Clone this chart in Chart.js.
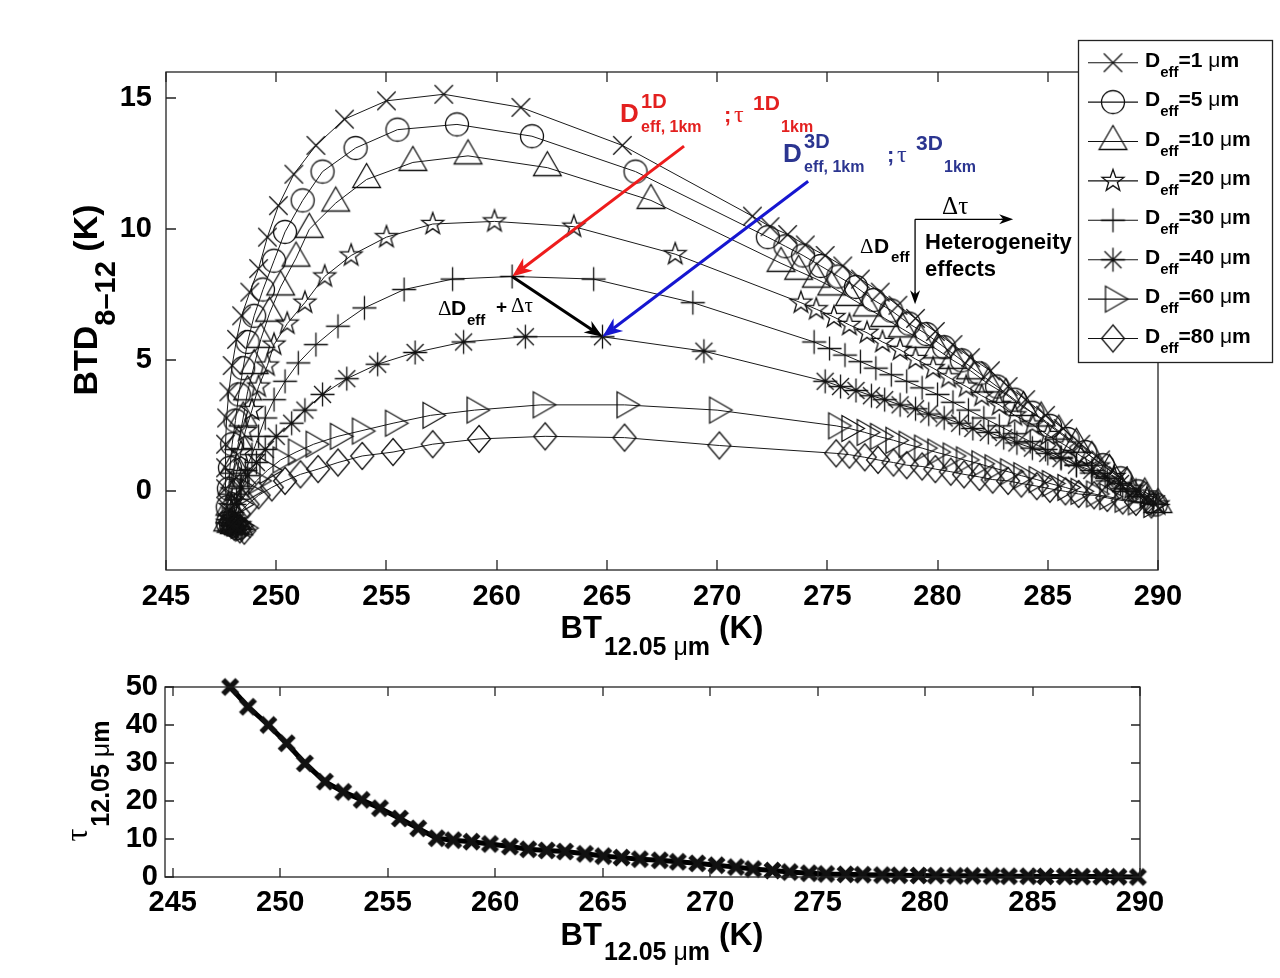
<!DOCTYPE html>
<html><head><meta charset="utf-8">
<script src="https://cdn.jsdelivr.net/npm/chart.js@4.4.1/dist/chart.umd.min.js"></script>
<style>
html,body{margin:0;padding:0;background:#fff;}
#wrap{position:relative;width:1280px;height:978px;overflow:hidden;background:#fff;}
canvas{position:absolute;left:0;}
#c1{top:0;} #c2{top:660px;}
</style></head><body>
<div id="wrap"><canvas id="c1" width="1280" height="660"></canvas><canvas id="c2" width="1280" height="318"></canvas></div>
<script>
// ---------------- DATA ----------------
const xTicks = [245,250,255,260,265,270,275,280,285,290];
const yTicksTop = [0,5,10,15];
const yTicksBottom = [0,10,20,30,40,50];
const deffLabels = ['1','5','10','20','30','40','60','80'];

const bt1  = [248.2,248.05,247.95,247.8,247.75,247.7,247.7,247.7,247.75,247.85,248.0,248.2,248.43,248.8,249.2,249.6,250.1,250.8,251.8,253.1,255.0,257.6,261.1,265.7,271.6,272.4,273.2,274.0,274.9,275.7,276.5,277.4,278.2,279.0,279.9,280.7,281.5,282.4,283.2,284.0,284.9,285.7,286.5,287.4,288.2,289.1,289.9];
const btd1 = [-1.35,-1.3,-1.25,-1.2,-0.6,0.1,0.9,1.8,2.8,3.8,4.8,5.8,6.7,7.6,8.5,9.7,10.9,12.1,13.2,14.2,14.9,15.15,14.65,13.2,10.5,10.1,9.8,9.4,9.0,8.6,8.1,7.6,7.1,6.6,6.1,5.6,5.1,4.6,4.0,3.5,2.9,2.4,1.8,1.2,0.6,0.0,-0.5];

const bt5  = [248.25,248.1,247.95,247.8,247.8,247.85,247.9,248.0,248.15,248.3,248.5,248.7,249.0,249.4,249.9,250.4,251.2,252.1,253.6,255.5,258.2,261.6,266.3,272.3,273.1,273.9,274.7,275.5,276.3,277.1,277.9,278.7,279.5,280.3,281.1,281.9,282.7,283.5,284.3,285.1,285.9,286.7,287.5,288.3,289.1,289.9];
const btd5 = [-1.4,-1.3,-1.25,-1.2,-0.6,0.1,0.9,1.8,2.7,3.7,4.7,5.7,6.7,7.7,8.8,9.9,11.1,12.2,13.1,13.8,14.0,13.55,12.2,9.7,9.35,9.0,8.6,8.2,7.8,7.3,6.9,6.4,6.0,5.5,5.0,4.5,4.0,3.5,3.0,2.5,2.0,1.5,1.0,0.5,0.0,-0.5];

const bt10  = [248.3,248.1,247.95,247.8,247.9,248.0,248.1,248.3,248.5,248.7,249.0,249.3,249.7,250.2,250.9,251.5,252.7,254.1,256.2,258.7,262.3,267.0,272.9,273.7,274.5,275.2,276.0,276.8,277.6,278.4,279.2,280.0,280.7,281.5,282.3,283.1,283.9,284.7,285.5,286.3,287.0,287.8,288.6,289.4,290.0];
const btd10 = [-1.35,-1.3,-1.25,-1.2,-0.6,0.2,1.0,1.9,2.8,3.8,4.8,5.8,6.8,7.8,8.9,10.0,11.0,11.9,12.55,12.8,12.35,11.1,8.7,8.4,8.1,7.8,7.4,7.0,6.6,6.2,5.8,5.4,5.0,4.6,4.1,3.7,3.2,2.8,2.3,1.8,1.3,0.8,0.3,-0.1,-0.5];

const bt20  = [248.35,248.15,248.0,247.8,247.9,248.0,248.2,248.4,248.6,248.9,249.2,249.6,249.9,250.5,251.3,252.2,253.4,255.0,257.1,259.9,263.5,268.1,273.8,274.5,275.3,276.0,276.8,277.5,278.3,279.0,279.8,280.5,281.3,282.0,282.8,283.5,284.3,285.0,285.8,286.5,287.3,288.0,288.8,289.5,290.0];
const btd20 = [-1.3,-1.3,-1.25,-1.2,-0.6,0.0,0.7,1.5,2.3,3.1,4.0,4.8,5.6,6.4,7.2,8.2,9.0,9.7,10.2,10.3,10.1,9.05,7.2,6.95,6.65,6.35,6.05,5.7,5.4,5.05,4.7,4.35,4.0,3.65,3.3,2.9,2.55,2.15,1.75,1.35,0.95,0.55,0.1,-0.25,-0.5];

const bt30  = [248.4,248.2,248.0,247.8,248.0,248.2,248.4,248.6,248.9,249.2,249.5,249.9,250.4,251.0,251.8,252.8,254.0,255.8,258.0,260.7,264.4,268.9,274.4,275.1,275.8,276.5,277.2,277.9,278.6,279.3,280.0,280.7,281.4,282.1,282.8,283.5,284.2,284.9,285.6,286.3,287.0,287.7,288.4,289.2,290.0];
const btd30 = [-1.4,-1.35,-1.25,-1.2,-0.8,-0.3,0.2,0.8,1.4,2.1,2.8,3.5,4.2,4.9,5.6,6.3,7.0,7.7,8.1,8.2,8.1,7.2,5.7,5.45,5.2,4.95,4.7,4.45,4.2,3.95,3.7,3.4,3.1,2.8,2.5,2.2,1.9,1.6,1.3,1.0,0.7,0.4,0.1,-0.2,-0.5];

const bt40  = [248.45,248.25,248.0,247.8,248.1,248.4,248.7,249.1,249.5,250.0,250.7,251.3,252.1,253.2,254.6,256.3,258.5,261.3,264.8,269.4,274.9,275.6,276.3,277.0,277.6,278.3,279.0,279.6,280.3,281.0,281.6,282.3,283.0,283.6,284.3,285.0,285.6,286.3,287.0,287.6,288.3,289.0,289.8];
const btd40 = [-1.45,-1.35,-1.3,-1.2,-0.5,0.1,0.6,1.1,1.6,2.1,2.6,3.1,3.7,4.3,4.85,5.3,5.7,5.9,5.9,5.35,4.2,4.0,3.85,3.65,3.5,3.3,3.15,2.95,2.8,2.6,2.4,2.25,2.05,1.85,1.65,1.45,1.25,1.0,0.8,0.55,0.3,0.05,-0.45];

const bt60  = [248.5,248.3,248.1,247.9,248.3,248.7,249.1,249.6,250.2,250.9,251.7,252.8,253.8,255.3,257.0,259.0,262.0,265.8,270.0,275.4,276.0,276.7,277.3,278.0,278.6,279.3,279.9,280.6,281.2,281.9,282.5,283.2,283.8,284.5,285.1,285.8,286.4,287.1,287.7,288.4,289.0,289.7];
const btd60 = [-1.4,-1.3,-1.2,-1.1,-0.5,0.0,0.4,0.8,1.2,1.5,1.8,2.1,2.3,2.6,2.9,3.1,3.3,3.3,3.1,2.5,2.4,2.25,2.1,1.95,1.8,1.65,1.5,1.35,1.2,1.05,0.9,0.75,0.6,0.45,0.3,0.15,0.0,-0.1,-0.2,-0.3,-0.4,-0.5];

const bt80  = [248.55,248.35,248.1,247.9,248.3,248.7,249.2,249.8,250.4,251.1,251.9,252.8,253.9,255.3,257.1,259.2,262.2,265.8,270.1,275.4,276.0,276.7,277.3,278.0,278.6,279.3,279.9,280.6,281.2,281.9,282.5,283.2,283.8,284.5,285.1,285.8,286.4,287.1,287.7,288.4,289.0,289.7];
const btd80 = [-1.5,-1.45,-1.35,-1.2,-0.85,-0.5,-0.15,0.15,0.4,0.65,0.85,1.1,1.35,1.5,1.8,2.0,2.1,2.05,1.75,1.45,1.4,1.3,1.2,1.1,1.0,0.95,0.85,0.75,0.65,0.55,0.45,0.4,0.3,0.2,0.1,0.0,-0.1,-0.15,-0.25,-0.35,-0.4,-0.5];

const btTau = [247.67,248.5,249.45,250.3,251.15,252.08,252.93,253.79,254.64,255.57,256.42,257.28,258.05,258.9,259.76,260.69,261.54,262.4,263.25,264.18,265.03,265.88,266.73,267.66,268.5,269.4,270.3,271.2,272.0,272.9,273.7,274.6,275.4,276.3,277.1,278.0,278.8,279.7,280.5,281.4,282.2,283.1,283.9,284.8,285.6,286.5,287.3,288.2,289.0,289.9];
const tau   = [50.0,44.8,40.0,35.2,29.9,25.1,22.4,20.3,18.1,15.4,12.8,10.2,9.7,9.3,8.7,8.0,7.3,7.0,6.7,6.1,5.5,5.1,4.7,4.4,4.0,3.6,3.1,2.6,2.1,1.7,1.3,1.0,0.8,0.7,0.6,0.5,0.45,0.4,0.35,0.3,0.3,0.25,0.2,0.2,0.15,0.15,0.1,0.1,0.05,0.0];

const btSeries  = [bt1,bt5,bt10,bt20,bt30,bt40,bt60,bt80];
const btdSeries = [btd1,btd5,btd10,btd20,btd30,btd40,btd60,btd80];

// annotation anchors (data coordinates)
const redArrow   = [[268.5,13.17],[260.7,8.2]];
const blueArrow  = [[274.13,11.83],[264.8,5.9]];
const blackArrow = [[260.7,8.2],[264.8,5.9]];
const redLabelAt   = [265.6,14.08];
const blueLabelAt  = [272.99,12.56];
const blackLabelAt = [257.34,6.72];
const hetCorner = [278.98,10.38], hetRight = 283.43, hetBottom = 7.14;

// ---------------- STYLE ----------------
const FAM = '"Liberation Sans", Arial, Helvetica, sans-serif';
const SERIF = '"Liberation Serif", "DejaVu Serif", serif';
const markerKinds = ['x','o','tri','star','plus','ast','triR','dia'];
const markerR = {x:13,o:11.5,tri:16,star:11.5,plus:12,ast:12,triR:15,dia:13.5};

function makeMarker(kind, r, lw) {
  const size = Math.ceil(2*r + 2*lw + 4);
  const c = document.createElement('canvas');
  c.width = size; c.height = size;
  const g = c.getContext('2d');
  const cx = size/2, cy = size/2;
  g.strokeStyle = '#111'; g.lineWidth = lw;
  const ang = (deg, rr) => [rr*Math.cos(deg*Math.PI/180), rr*Math.sin(deg*Math.PI/180)];
  const poly = pts => { pts.forEach((p,i)=> i ? g.lineTo(cx+p[0],cy+p[1]) : g.moveTo(cx+p[0],cy+p[1])); g.closePath(); };
  g.beginPath();
  const d = r*Math.SQRT1_2;
  switch(kind){
    case 'x': case 'X': g.moveTo(cx-d,cy-d); g.lineTo(cx+d,cy+d); g.moveTo(cx-d,cy+d); g.lineTo(cx+d,cy-d); break;
    case 'o': g.arc(cx,cy,r,0,2*Math.PI); break;
    case 'tri': poly([ang(-90,r),ang(30,r),ang(150,r)]); break;
    case 'star': { const p=[]; for(let k=0;k<10;k++) p.push(ang(-90+k*36, k%2 ? r*0.4 : r)); poly(p); break; }
    case 'plus': g.moveTo(cx-r,cy); g.lineTo(cx+r,cy); g.moveTo(cx,cy-r); g.lineTo(cx,cy+r); break;
    case 'ast': g.moveTo(cx-r,cy); g.lineTo(cx+r,cy); g.moveTo(cx,cy-r); g.lineTo(cx,cy+r);
                g.moveTo(cx-d,cy-d); g.lineTo(cx+d,cy+d); g.moveTo(cx-d,cy+d); g.lineTo(cx+d,cy-d); break;
    case 'triR': poly([ang(0,r),ang(120,r),ang(240,r)]); break;
    case 'dia': poly([[0,-r],[r*0.85,0],[0,r],[-r*0.85,0]]); break;
  }
  g.stroke();
  return c;
}
const markerImgs = markerKinds.map(k => makeMarker(k, markerR[k], 1.3));
const tauMarker = makeMarker('X', 10, 5.5);

function txt(ctx, s, x, y, font, color) { ctx.font = font; if (color) ctx.fillStyle = color; ctx.fillText(s, x, y); return ctx.measureText(s).width; }
function rich(ctx, x, y, parts, align) {
  let w = 0;
  parts.forEach(p => { ctx.font = p.f; p.w = ctx.measureText(p.t).width; w += p.w + (p.dx||0); });
  let cx = align === 'center' ? x - w/2 : x;
  parts.forEach(p => { ctx.font = p.f; ctx.fillStyle = p.c || '#000'; ctx.fillText(p.t, cx + (p.dx||0), y + (p.dy||0)); cx += p.w + (p.dx||0); });
}
function arrow(ctx, x1, y1, x2, y2, color, lw, hl, hw) {
  const a = Math.atan2(y2-y1, x2-x1), c = Math.cos(a), s = Math.sin(a);
  ctx.save(); ctx.strokeStyle = color; ctx.fillStyle = color; ctx.lineWidth = lw;
  ctx.beginPath(); ctx.moveTo(x1,y1); ctx.lineTo(x2 - hl*0.7*c, y2 - hl*0.7*s); ctx.stroke();
  const bx = x2 - hl*c, by = y2 - hl*s;
  ctx.beginPath(); ctx.moveTo(x2,y2);
  ctx.lineTo(bx + hw*s, by - hw*c);
  ctx.lineTo(x2 - hl*0.7*c, y2 - hl*0.7*s);
  ctx.lineTo(bx - hw*s, by + hw*c);
  ctx.closePath(); ctx.fill(); ctx.restore();
}
function boxAndTicks(chart, xt, yt, len) {
  const {ctx, chartArea:a, scales:{x,y}} = chart;
  ctx.save(); ctx.strokeStyle = '#222'; ctx.lineWidth = 1.3;
  ctx.strokeRect(a.left, a.top, a.right-a.left, a.bottom-a.top);
  ctx.beginPath();
  xt.forEach(v => { const p = Math.round(x.getPixelForValue(v)); ctx.moveTo(p,a.bottom); ctx.lineTo(p,a.bottom-len); ctx.moveTo(p,a.top); ctx.lineTo(p,a.top+len); });
  yt.forEach(v => { const p = Math.round(y.getPixelForValue(v)); ctx.moveTo(a.left,p); ctx.lineTo(a.left+len,p); ctx.moveTo(a.right,p); ctx.lineTo(a.right-len,p); });
  ctx.stroke(); ctx.restore();
}
function dLabel(ctx, x, y, sup, color) {
  ctx.fillStyle = color;
  txt(ctx, 'D', x, y, 'bold 26px '+FAM);
  txt(ctx, sup, x+21, y-14, 'bold 20px '+FAM);
  txt(ctx, 'eff, 1km', x+21, y+10, 'bold 16px '+FAM);
  txt(ctx, ';', x+104, y, 'bold 22px '+FAM);
  txt(ctx, 'τ', x+114, y, '24px '+SERIF);
  txt(ctx, sup, x+133, y-12, 'bold 21px '+FAM);
  txt(ctx, '1km', x+161, y+10, 'bold 16px '+FAM);
}

const topDecor = {
  id: 'topDecor',
  afterDraw(chart) {
    const {ctx, scales:{x, y}} = chart;
    const X = v => x.getPixelForValue(v), Y = v => y.getPixelForValue(v);
    boxAndTicks(chart, xTicks, yTicksTop, 10);
    ctx.save();
    ctx.textBaseline = 'alphabetic';
    rich(ctx, 662, 638, [
      {t:'BT', f:'bold 31px '+FAM},
      {t:'12.05 ', f:'bold 25px '+FAM, dy:17, dx:2},
      {t:'μ', f:'25px '+FAM, dy:17},
      {t:'m', f:'bold 25px '+FAM, dy:17},
      {t:' (K)', f:'bold 32px '+FAM}
    ], 'center');
    ctx.save(); ctx.translate(97, 300); ctx.rotate(-Math.PI/2);
    rich(ctx, 0, 0, [
      {t:'BTD', f:'bold 34px '+FAM},
      {t:'8–12', f:'bold 29px '+FAM, dy:18},
      {t:' (K)', f:'bold 34px '+FAM}
    ], 'center');
    ctx.restore();
    arrow(ctx, X(redArrow[0][0]), Y(redArrow[0][1]), X(redArrow[1][0]), Y(redArrow[1][1]), '#ee1c1c', 3, 20, 8);
    arrow(ctx, X(blueArrow[0][0]), Y(blueArrow[0][1]), X(blueArrow[1][0]), Y(blueArrow[1][1]), '#1616d0', 3, 20, 8);
    arrow(ctx, X(blackArrow[0][0]), Y(blackArrow[0][1]), X(blackArrow[1][0]), Y(blackArrow[1][1]), '#000', 3, 18, 7);
    dLabel(ctx, X(redLabelAt[0]), Y(redLabelAt[1]), '1D', '#e3201f');
    dLabel(ctx, X(blueLabelAt[0]), Y(blueLabelAt[1]), '3D', '#2b3590');
    const bx = X(blackLabelAt[0]), by = Y(blackLabelAt[1]);
    ctx.fillStyle = '#000';
    txt(ctx, 'Δ', bx, by, '21px '+SERIF);
    txt(ctx, 'D', bx+13, by, 'bold 21px '+FAM);
    txt(ctx, 'eff', bx+29, by+10, 'bold 15px '+FAM);
    txt(ctx, '+', bx+58, by-2, 'bold 19px '+FAM);
    txt(ctx, 'Δτ', bx+73, by-3, '21px '+SERIF);
    const cx0 = X(hetCorner[0]), cy0 = Y(hetCorner[1]);
    ctx.strokeStyle = '#000'; ctx.lineWidth = 1.3;
    ctx.beginPath(); ctx.moveTo(cx0, cy0); ctx.lineTo(X(hetRight)-6, cy0); ctx.stroke();
    ctx.beginPath(); ctx.moveTo(cx0, cy0); ctx.lineTo(cx0, Y(hetBottom)-6); ctx.stroke();
    arrow(ctx, X(hetRight)-12, cy0, X(hetRight), cy0, '#000', 1.3, 14, 5);
    arrow(ctx, cx0, Y(hetBottom)-12, cx0, Y(hetBottom), '#000', 1.3, 14, 5);
    txt(ctx, 'Δτ', cx0+27, cy0-5, '25px '+SERIF, '#000');
    txt(ctx, 'Δ', cx0-55, cy0+34, '21px '+SERIF);
    txt(ctx, 'D', cx0-41, cy0+34, 'bold 21px '+FAM);
    txt(ctx, 'eff', cx0-24, cy0+43, 'bold 15px '+FAM);
    txt(ctx, 'Heterogeneity', cx0+10, cy0+30, 'bold 22px '+FAM);
    txt(ctx, 'effects', cx0+10, cy0+57, 'bold 22px '+FAM);
    ctx.fillStyle = '#fff'; ctx.fillRect(1078, 40, 194, 322);
    ctx.strokeStyle = '#222'; ctx.lineWidth = 1.3; ctx.strokeRect(1078.5, 40.5, 194, 322);
    deffLabels.forEach((lab, i) => {
      const yy = 62.7 + i*39.4;
      ctx.strokeStyle = '#111'; ctx.lineWidth = 1.1;
      ctx.beginPath(); ctx.moveTo(1088, yy); ctx.lineTo(1138, yy); ctx.stroke();
      const m = markerImgs[i];
      ctx.drawImage(m, 1113 - m.width/2, yy - m.height/2);
      ctx.fillStyle = '#000';
      let xx = 1145;
      xx += txt(ctx, 'D', xx, yy+4, 'bold 21px '+FAM);
      xx += txt(ctx, 'eff', xx, yy+14, 'bold 15px '+FAM);
      xx += txt(ctx, '=' + lab + ' ', xx, yy+4, 'bold 21px '+FAM);
      xx += txt(ctx, 'μ', xx, yy+4, '21px '+FAM);
      txt(ctx, 'm', xx, yy+4, 'bold 21px '+FAM);
    });
    ctx.restore();
  }
};

const bottomDecor = {
  id: 'bottomDecor',
  afterDraw(chart) {
    const {ctx} = chart;
    boxAndTicks(chart, xTicks, yTicksBottom, 9);
    ctx.save();
    rich(ctx, 662, 285, [
      {t:'BT', f:'bold 31px '+FAM},
      {t:'12.05 ', f:'bold 25px '+FAM, dy:15, dx:2},
      {t:'μ', f:'25px '+FAM, dy:15},
      {t:'m', f:'bold 25px '+FAM, dy:15},
      {t:' (K)', f:'bold 32px '+FAM}
    ], 'center');
    ctx.translate(87, 121); ctx.rotate(-Math.PI/2);
    rich(ctx, 0, 0, [
      {t:'τ', f:'32px '+SERIF},
      {t:'12.05 ', f:'bold 25px '+FAM, dy:22, dx:2},
      {t:'μ', f:'25px '+FAM, dy:22},
      {t:'m', f:'bold 25px '+FAM, dy:22}
    ], 'center');
    ctx.restore();
  }
};

const tickFont = {family: FAM, size: 29, weight: 'bold'};

new Chart(document.getElementById('c1'), {
  type: 'scatter',
  data: {
    datasets: btSeries.map((bt, i) => ({
      label: 'Deff=' + deffLabels[i] + ' μm',
      data: bt.map((v, k) => ({x: v, y: btdSeries[i][k]})),
      showLine: true, borderColor: '#1a1a1a', borderWidth: 1, tension: 0,
      pointStyle: markerImgs[i], pointRadius: 6, pointHoverRadius: 6,
      backgroundColor: 'rgba(0,0,0,0)', clip: false
    }))
  },
  options: {
    responsive: false, animation: false, devicePixelRatio: 1, events: [],
    layout: {padding: {top: 72, right: 122, left: 0, bottom: 0}},
    plugins: {legend: {display: false}, tooltip: {enabled: false}},
    scales: {
      x: {type: 'linear', min: 245, max: 290,
          afterBuildTicks: s => { s.ticks = xTicks.map(v => ({value: v})); },
          afterFit: s => { s.height = 90; },
          grid: {display: false, drawTicks: false}, border: {display: false},
          ticks: {color: '#000', font: tickFont, padding: 10, maxRotation: 0, autoSkip: false}},
      y: {type: 'linear', min: -3, max: 16,
          afterBuildTicks: s => { s.ticks = yTicksTop.map(v => ({value: v})); },
          afterFit: s => { s.width = 166; },
          grid: {display: false, drawTicks: false}, border: {display: false},
          ticks: {color: '#000', font: tickFont, padding: 14, autoSkip: false}}
    }
  },
  plugins: [topDecor]
});

new Chart(document.getElementById('c2'), {
  type: 'scatter',
  data: {
    datasets: [{
      label: 'tau',
      data: btTau.map((v, k) => ({x: v, y: tau[k]})),
      showLine: true, borderColor: '#000', borderWidth: 5, tension: 0,
      pointStyle: tauMarker, pointRadius: 6, pointHoverRadius: 6,
      backgroundColor: 'rgba(0,0,0,0)', clip: false
    }]
  },
  options: {
    responsive: false, animation: false, devicePixelRatio: 1, events: [],
    layout: {padding: {top: 27, right: 140, left: 0, bottom: 0}},
    plugins: {legend: {display: false}, tooltip: {enabled: false}},
    scales: {
      x: {type: 'linear', min: 244.64, max: 290,
          afterBuildTicks: s => { s.ticks = xTicks.map(v => ({value: v})); },
          afterFit: s => { s.height = 101; },
          grid: {display: false, drawTicks: false}, border: {display: false},
          ticks: {color: '#000', font: tickFont, padding: 9, maxRotation: 0, autoSkip: false}},
      y: {type: 'linear', min: 0, max: 50,
          afterBuildTicks: s => { s.ticks = yTicksBottom.map(v => ({value: v})); },
          afterFit: s => { s.width = 165; },
          grid: {display: false, drawTicks: false}, border: {display: false},
          ticks: {color: '#000', font: tickFont, padding: 7, autoSkip: false}}
    }
  },
  plugins: [bottomDecor]
});
</script>
</body></html>
